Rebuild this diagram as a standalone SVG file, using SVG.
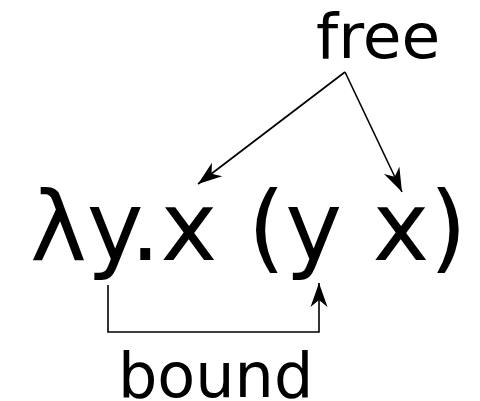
<svg xmlns="http://www.w3.org/2000/svg" width="480" height="401" viewBox="0 0 480 401">
<style>
text{font-family:"DejaVu Sans",sans-serif;fill:#000}
.c{fill:none;stroke:#000;stroke-width:1.6}
</style>
<defs>
<marker id="ah" viewBox="-26 -10 28 20" refX="0" refY="0" markerWidth="28" markerHeight="20" markerUnits="userSpaceOnUse" orient="auto">
<path d="M0,0 L-24,-8.5 L-17,0 L-24,8.5 Z" fill="#000"/>
</marker>
</defs>
<rect width="480" height="401" fill="#fff"/>
<g id="expr"><text x="30" y="260" font-size="96">λy.x (y x)</text></g>
<g id="free"><text x="316" y="58" font-size="63">free</text></g>
<g id="bound"><text x="118" y="397" font-size="62">bound</text></g>
<g id="connectors">
<path class="c" d="M345,72 L198,184" marker-end="url(#ah)"/>
<path class="c" d="M345,72 L402,192" marker-end="url(#ah)"/>
<path class="c" d="M108,285 L108,332 L319,332 L319,283" marker-end="url(#ah)"/>
</g>
</svg>
